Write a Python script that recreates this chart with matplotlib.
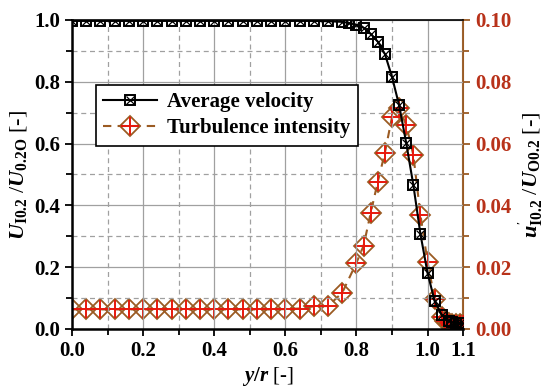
import numpy as np
import matplotlib.pyplot as plt
from matplotlib.ticker import MultipleLocator, FixedLocator
from matplotlib.legend_handler import HandlerTuple

plt.rcParams['font.family'] = ['Liberation Serif', 'DejaVu Serif']
plt.rcParams['font.weight'] = 'bold'
plt.rcParams['mathtext.fontset'] = 'custom'
plt.rcParams['mathtext.rm'] = 'Liberation Serif:bold'
plt.rcParams['mathtext.it'] = 'Liberation Serif:italic:bold'
plt.rcParams['mathtext.bf'] = 'Liberation Serif:bold'

# average velocity U_I0.2 / U_0.2O
vel_x = [0.00, 0.04, 0.08, 0.12, 0.16, 0.20, 0.24, 0.28, 0.32, 0.36, 0.40,
         0.44, 0.48, 0.52, 0.56, 0.60, 0.64, 0.68, 0.72, 0.76, 0.78, 0.80,
         0.82, 0.84, 0.86, 0.88, 0.90, 0.92, 0.94, 0.96, 0.98, 1.00, 1.02,
         1.04, 1.06, 1.07, 1.08, 1.09, 1.10]
vel_y = [0.997, 0.997, 0.997, 0.997, 0.997, 0.997, 0.997, 0.997, 0.997, 0.997, 0.997,
         0.997, 0.997, 0.997, 0.997, 0.997, 0.997, 0.997, 0.996, 0.994, 0.99, 0.984,
         0.975, 0.955, 0.93, 0.89, 0.816, 0.724, 0.602, 0.466, 0.307, 0.181, 0.09,
         0.045, 0.026, 0.021, 0.02, 0.019, 0.018]

# turbulence intensity u'_I0.2 / U_O0.2
turb_x = [0.00, 0.04, 0.08, 0.12, 0.16, 0.20, 0.24, 0.28, 0.32, 0.36, 0.40,
          0.44, 0.48, 0.52, 0.56, 0.60, 0.64, 0.68, 0.72, 0.76, 0.80, 0.82,
          0.84, 0.86, 0.88, 0.90, 0.92, 0.94, 0.96, 0.98, 1.00, 1.02, 1.04,
          1.05, 1.06, 1.07, 1.08, 1.09, 1.10]
turb_y = [0.0063, 0.0063, 0.0063, 0.0063, 0.0063, 0.0063, 0.0063, 0.0063,
          0.0063, 0.0063, 0.0063, 0.0063, 0.0063, 0.0063, 0.0063, 0.0064,
          0.0066, 0.0073, 0.0074, 0.0117, 0.0214, 0.0269, 0.0375, 0.0476,
          0.057, 0.0686, 0.0716, 0.066, 0.0563, 0.0369, 0.0217, 0.0097,
          0.0039, 0.0025, 0.002, 0.0016, 0.0015, 0.0015, 0.0015]

brown = '#9B5B23'
red = '#E8180C'
tick_red = '#B8321A'

fig, ax = plt.subplots(figsize=(5.5, 3.92), dpi=100)
fig.subplots_adjust(left=0.131, right=0.842, bottom=0.161, top=0.949)
ax2 = ax.twinx()

ax.set_zorder(2)
ax.patch.set_visible(False)

# turbulence intensity on right axis
ax2.plot(turb_x, turb_y, '--', color=brown, lw=1.5, dashes=(4, 3), zorder=2)
ax2.plot(turb_x, turb_y, 'D', ms=10, mfc='none', mec=brown, mew=1.3, zorder=3)
ax2.plot(turb_x, turb_y, '+', ms=13, mec=red, mew=1.4, zorder=4)

# velocity on left axis
ax.plot(vel_x, vel_y, '-', color='black', lw=1.5, zorder=2)
ax.plot(vel_x, vel_y, 's', ms=7.5, mfc='none', mec='black', mew=1.4, zorder=3)
ax.plot(vel_x, vel_y, 'x', ms=5.5, mec='black', mew=0.9, zorder=4)

ax.set_xlim(0, 1.1)
ax.set_ylim(0, 1.0)
ax2.set_ylim(0, 0.1)

ax.xaxis.set_major_locator(FixedLocator([0, 0.2, 0.4, 0.6, 0.8, 1.0, 1.1]))
ax.xaxis.set_minor_locator(FixedLocator([0.1, 0.3, 0.5, 0.7, 0.9]))
ax.yaxis.set_major_locator(MultipleLocator(0.2))
ax.yaxis.set_minor_locator(MultipleLocator(0.1))
ax2.yaxis.set_major_locator(MultipleLocator(0.02))
ax2.yaxis.set_minor_locator(MultipleLocator(0.01))

ax.set_xticklabels(['0.0', '0.2', '0.4', '0.6', '0.8', '1.0', '1.1'])
ax.yaxis.set_major_formatter(plt.FormatStrFormatter('%.1f'))
ax2.yaxis.set_major_formatter(plt.FormatStrFormatter('%.2f'))

ax.grid(which='major', color='#a0a0a0', lw=0.9, ls='-')
ax.grid(which='minor', color='#a0a0a0', lw=0.9, ls=(0, (4, 3)))

ax.tick_params(which='both', direction='out', labelsize=15, width=1.3)
ax.tick_params(which='major', length=5)
ax.tick_params(which='minor', length=4)
ax.tick_params(axis='y', which='both', right=False)
ax.tick_params(axis='x', which='both', top=False)
ax2.tick_params(which='both', direction='out', labelsize=15, colors=brown,
                labelcolor=tick_red, width=1.3)
ax2.tick_params(which='major', length=5)
ax2.tick_params(which='minor', length=4)

for s in ['left', 'bottom']:
    ax.spines[s].set_linewidth(1.8)
ax.spines['top'].set_linewidth(1.2)
ax2.spines['right'].set_color(brown)
ax2.spines['right'].set_linewidth(1.5)
ax2.spines['left'].set_visible(False)
ax2.spines['bottom'].set_visible(False)
ax2.spines['top'].set_visible(False)
ax.spines['right'].set_visible(False)

ax.set_xlabel(r'$y/r$ [-]', fontsize=15, labelpad=3)
ax.set_ylabel(r'$U_{\mathrm{I0.2}}$ /$U_{\mathrm{0.2O}}$ [-]', fontsize=16, labelpad=4)
ax2.set_ylabel(r"$u^{'}_{\mathrm{I0.2}}$ /$U_{\mathrm{O0.2}}$ [-]", fontsize=16,
               rotation=90, labelpad=4)

# legend handles (line + marker outline + inner cross, overlaid)
h1a, = ax.plot([], [], '-', color='black', lw=1.5, marker='s', ms=7.5,
               mfc='none', mec='black', mew=1.4)
h1b, = ax.plot([], [], 'x', ms=5.5, mec='black', mew=0.9)
h2a, = ax.plot([], [], '--', color=brown, lw=1.5, dashes=(4, 3), marker='D', ms=10,
               mfc='none', mec=brown, mew=1.3)
h2b, = ax.plot([], [], '+', ms=13, mec=red, mew=1.4)
leg = ax.legend([(h1a, h1b), (h2a, h2b)], ['Average velocity', 'Turbulence intensity'],
                handler_map={tuple: HandlerTuple(ndivide=1, pad=0)},
                loc='upper left', bbox_to_anchor=(0.06, 0.79), fontsize=15,
                handlelength=2.6, fancybox=False, edgecolor='black',
                framealpha=1, borderpad=0.35, labelspacing=0.3,
                handletextpad=0.5, borderaxespad=0)
leg.get_frame().set_linewidth(1.2)

fig.savefig('out.png', dpi=100)
